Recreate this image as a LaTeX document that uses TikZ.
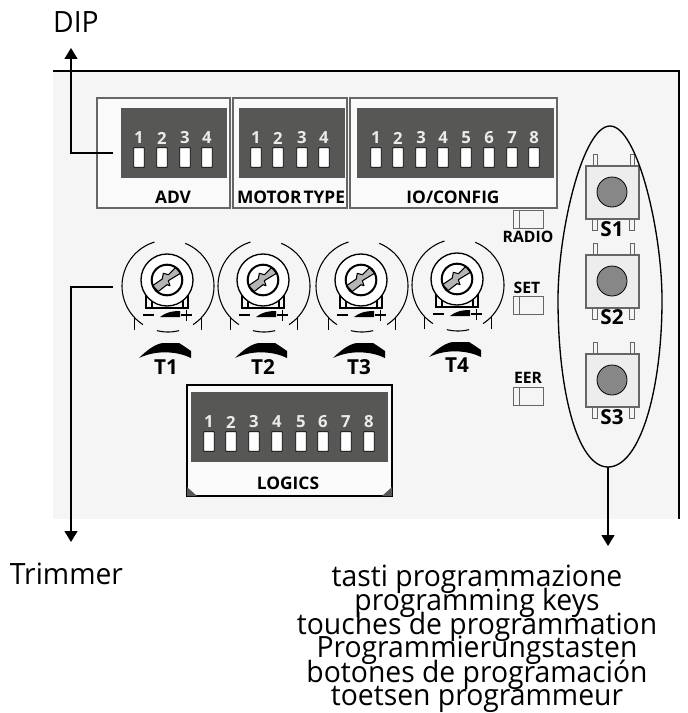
\documentclass[tikz,border=0pt]{standalone}
\usepackage{fontspec}
\setmainfont{Open Sans}
\newfontfamily\bigfont[FakeStretch=0.965]{Open Sans}
\usetikzlibrary{arrows.meta}
\definecolor{panelbg}{HTML}{F5F5F5}
\definecolor{dipdark}{HTML}{575756}
\definecolor{boxline}{HTML}{666666}
\definecolor{screwgray}{HTML}{B5B5B5}
\definecolor{btnface}{HTML}{EDEDED}
\definecolor{btncap}{HTML}{878787}
\tikzset{
  x=0.75pt,y=-0.75pt,
  panelline/.style={line width=1.5pt,black},
  pointer/.style={line width=1pt,black,-{Triangle[length=8.25pt,width=9.75pt]}},
  dipbox/.style={draw=boxline,line width=0.9pt,fill=white!50!panelbg},
  dipfield/.style={fill=dipdark,draw=none},
  dipsw/.style={draw=black,line width=0.6pt,fill=white,inner sep=0pt,minimum width=8pt,minimum height=14.5pt,rounded corners=0.4pt},
  dipnum/.style={text=white!92!black,font=\fontsize{12.5}{12.5}\selectfont\bfseries,inner sep=0pt},
  boxlabel/.style={font=\fontsize{13}{13}\selectfont\bfseries,inner sep=0pt},
  tlabel/.style={font=\fontsize{15.5}{15.5}\selectfont\bfseries,inner sep=0pt},
  ledbox/.style={draw=boxline,line width=0.7pt,fill=panelbg},
  ledlabel/.style={font=\fontsize{11.8}{11.8}\selectfont\bfseries,inner sep=0pt},
  btnbody/.style={draw=boxline,line width=0.9pt,fill=btnface},
  btncapc/.style={draw=black,line width=0.6pt,fill=btncap},
  btnpin/.style={draw=boxline,line width=0.6pt,fill=panelbg},
  biglabel/.style={font=\bigfont\fontsize{22}{22}\selectfont,inner sep=0pt},
  ringline/.style={line width=0.8pt,smooth},
}
\newcommand{\dipswitch}[3]{%
  \node[dipnum] at (#1,#2-10) {#3};
  \node[dipsw] at (#1,#2+9.5) {};}
\newcommand{\trimmer}[2]{%
 \begin{scope}[shift={(#1,#2)}]
  \draw[ringline] plot[domain=-68:57,samples=40] ({46*cos(\x)},{46*sin(\x)});
  \draw[ringline] plot[domain=123:253,samples=40] ({46*cos(\x)},{46*sin(\x)});
  \draw[ringline] plot[domain=76:104,samples=10] ({46*cos(\x)},{46*sin(\x)});
  \draw[line width=0.8pt] (-33.5,31) -- (-33.5,44);
  \draw[line width=0.8pt] (33.5,31) -- (33.5,44);
  % base
  \draw[line width=0.8pt] (-22,8) -- (-22,22) -- (20,22) -- (20,8);
  \draw[line width=1.3pt] (-16,10) -- (-16,21) (15,10) -- (15,21);
  % wheel
  \draw[line width=1pt,fill=white] (-1,-6) circle[radius=26];
  \begin{scope}[shift={(-1,-6)}]
  \begin{scope}
   \clip (0,0) circle[radius=15.3];
   \draw[screwgray,fill=screwgray,draw=black,line width=0.8pt,line join=round] (-14.5,5.7) -- (-8.7,11.5) -- (0,4.7) -- (3,5.7) -- (1.3,0.7) -- (13.5,-6.7) -- (8.7,-12.5) -- (1.3,-5.3) -- (-3.7,-6.7) -- (-4.7,-1) -- cycle;
  \end{scope}
  \draw[line width=1.5pt] (0,0) circle[radius=15.3];
  \end{scope}
  % marks
  \draw[line width=1.3pt] (-25,29) -- (-14,29);
  \draw[line width=1pt] (13,29) -- (24,29) (18.5,23.5) -- (18.5,34.5);
  \fill (-8,31) .. controls (-3,27) and (3,25) .. (12,25) -- (12,31) -- cycle;
  % dial wedge
  \fill (-29,72) .. controls (-20,63) and (-11,57) .. (-4,57) -- (11,57) .. controls (16,60) and (20,63) .. (23,65) -- (23,72) .. controls (11,66) and (-10,63) .. cycle;
 \end{scope}}
\newcommand{\pushbutton}[2]{%
  \draw[btnpin] (#1-19,#2-38) rectangle (#1-15,#2-26);
  \draw[btnpin] (#1+18,#2-38) rectangle (#1+22,#2-26);
  \draw[btnpin] (#1-20,#2+27) rectangle (#1-15,#2+38);
  \draw[btnpin] (#1+17,#2+27) rectangle (#1+22,#2+38);
  \draw[btnbody] (#1-26,#2-26) rectangle (#1+27,#2+27);
  \draw[btncapc] (#1,#2) circle[radius=15];}
\begin{document}
\begin{tikzpicture}
\useasboundingbox (0,0) rectangle (688,713);
\fill[white] (0,0) rectangle (688,713);
% panel
\fill[panelbg] (53,71) rectangle (678,519);
\draw[panelline] (53,71) -- (679,71) -- (679,519);
% DIP boxes
\draw[dipbox] (97,98) rectangle (230,208);
\draw[dipbox] (233,98) rectangle (347,208);
\draw[dipbox] (350,98) rectangle (557,208);
\draw[dipfield] (121,108) rectangle (227,178);
\draw[dipfield] (239,108) rectangle (345,178);
\draw[dipfield] (357,108) rectangle (554,178);
\foreach \px/\n in {139/1,162/2,185/3,207/4,256/1,278/2,302/3,324/4,376/1,398/2,421/3,443/4,466/5,489/6,512/7,534/8}{\dipswitch{\px}{148}{\n}}
\node[boxlabel] (adv) at (173,197) {ADV};
\node[boxlabel] (mt) at (291,197) {MOTOR\hspace{1.5pt}TYPE};
\node[boxlabel] (io) at (453,197) {IO/CONFIG};
% trimmers
\trimmer{168}{286}
\trimmer{264}{286}
\trimmer{362}{286}
\trimmer{458}{285}
\node[tlabel] (t1) at (166,367) {T1};
\node[tlabel] (t2) at (263,367) {T2};
\node[tlabel] (t3) at (359,367) {T3};
\node[tlabel] (t4) at (457,365) {T4};
% logics
\draw[line width=0.9pt,fill=white!60!panelbg] (187,385) rectangle (392,496);
\draw[dipfield] (191,392) rectangle (388,462);
\foreach \px/\n in {209/1,231/2,254/3,277/4,301/5,323/6,346/7,369/8}{\dipswitch{\px}{432}{\n}}
\fill[dipdark] (187,487) -- (197,496) -- (187,496) -- cycle;
\fill[dipdark] (392,487) -- (382,496) -- (392,496) -- cycle;
\node[boxlabel] (logics) at (288,483) {LOGICS};
% LEDs
\foreach \ly in {210,296,387}{
 \draw[ledbox] (513,\ly) rectangle (543,\ly+18);
 \draw[line width=0.6pt,boxline] (519,\ly) -- (519,\ly+18);}
\node[ledlabel] (radio) at (528,237) {RADIO};
\node[ledlabel] (set) at (527,288) {SET};
\node[ledlabel] (eer) at (528,378) {EER};
% buttons
\pushbutton{612}{192}
\pushbutton{612}{281}
\pushbutton{612}{380}
\node[tlabel] (s1) at (612,229) {S1};
\node[tlabel] (s2) at (612,317) {S2};
\node[tlabel] (s3) at (612,417) {S3};
% oval
\draw[line width=1pt] (610,126) .. controls (637,126) and (662,230) .. (662,300) .. controls (662,390) and (640,467) .. (608,467) .. controls (577,467) and (558,390) .. (558,300) .. controls (558,230) and (583,126) .. cycle;
% pointers
\coordinate (dipfree) at (113,153);
\coordinate (diptip) at (71,48);
\coordinate (trimfree) at (113,287);
\coordinate (trimtip) at (71,542);
\coordinate (ovalb) at (608,467);
\coordinate (ovaltip) at (608,546);
\draw[pointer] (dipfree) -| (diptip);
\draw[pointer] (trimfree) -| (trimtip);
\draw[pointer] (ovalb) -- (ovaltip);
% texts
\node[biglabel,anchor=base] (dip) at (76,33) {DIP};
\node[biglabel,anchor=base] (trm) at (66.5,584) {Trimmer};
\node[biglabel,anchor=base] (k1) at (477,586) {tasti programmazione};
\node[biglabel,anchor=base] (k2) at (477,610) {programming keys};
\node[biglabel,anchor=base] (k3) at (477,634) {touches de programmation};
\node[biglabel,anchor=base] (k4) at (477,657) {Programmierungstasten};
\node[biglabel,anchor=base] (k5) at (477,682) {botones de programación};
\node[biglabel,anchor=base] (k6) at (477,705) {toetsen programmeur};
\end{tikzpicture}
\end{document}
